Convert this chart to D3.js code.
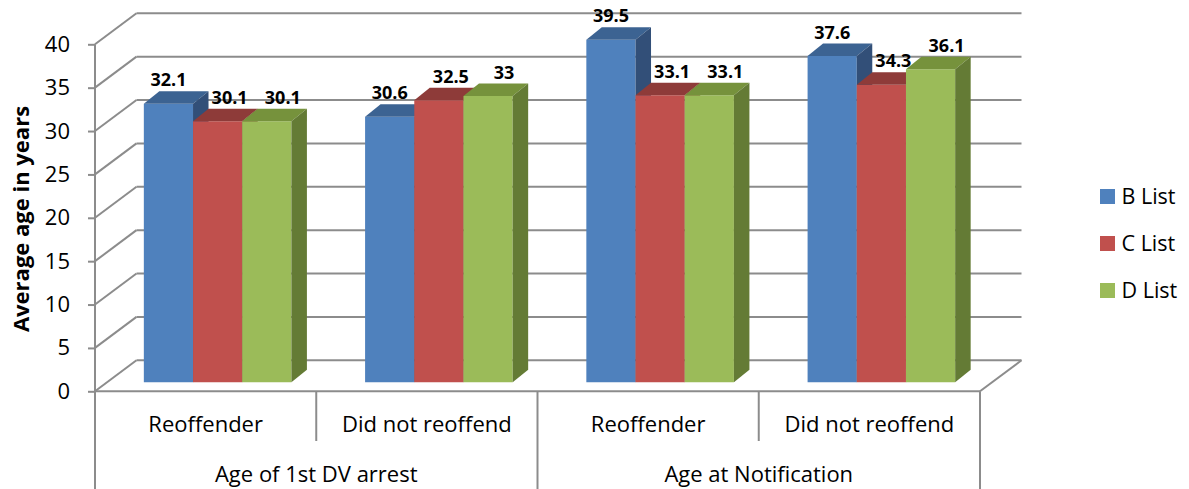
<!DOCTYPE html>
<html>
<head>
<meta charset="utf-8">
<script src="https://cdn.jsdelivr.net/npm/d3@7"></script>
<style>
  html, body { margin: 0; padding: 0; background: #ffffff; }
  svg { display: block; font-family: "Open Sans", "Noto Sans", sans-serif; }
</style>
</head>
<body>
<svg id="chart" width="1189" height="489"></svg>
<script>
// ---- data ----
const groups = ["Age of 1st DV arrest", "Age at Notification"];
const subCategories = ["Reoffender", "Did not reoffend"];
const seriesNames = ["B List", "C List", "D List"];
const bList = [32.1, 30.6, 39.5, 37.6];
const cList = [30.1, 32.5, 33.1, 34.3];
const dList = [30.1, 33.0, 33.1, 36.1];
const yTicks = [0, 5, 10, 15, 20, 25, 30, 35, 40];
const yTitle = "Average age in years";

// ---- styles ----
const frontColors = ["#4F81BD", "#C0504D", "#9BBB59"];
const topColors   = ["#3C6392", "#8E3B39", "#76923C"];
const sideColors  = ["#324F78", "#7A3230", "#647B35"];
const labelShift  = [0, 12, 16];
const lineColor = "#8C8C8C";

const seriesValues = [bList, cList, dList];
const categories = [];
groups.forEach((g, gi) => subCategories.forEach((s, si) => categories.push({ group: g, gi, sub: s, idx: gi * subCategories.length + si })));

const svg = d3.select("#chart");

// geometry
const x0 = 95, x1 = 980;
const wallDX = 41.5, wallDY = -31;   // depth of the whole plot box
const barOX = 12, barOY = -9;        // front plane of bars inside the box
const barDX = 15.5, barDY = -12.5;   // depth of each bar

const y = d3.scaleLinear().domain([0, 40]).range([391.3, 44.3]);
const x = d3.scaleBand().domain(categories.map(c => c.idx)).range([x0, x1]).paddingInner(0).paddingOuter(0);
const barGroupWidth = x.bandwidth() * 0.667;
const xs = d3.scaleBand().domain(d3.range(seriesNames.length)).range([0, barGroupWidth]).padding(0);

// ---- back wall gridlines ----
const g = svg.append("g");
g.selectAll("line.grid").data(yTicks).join("line")
  .attr("x1", x0 + wallDX).attr("x2", x1 + wallDX)
  .attr("y1", d => y(d) + wallDY).attr("y2", d => y(d) + wallDY)
  .attr("stroke", lineColor).attr("stroke-width", 2);
// left wall diagonals
g.selectAll("line.diag").data(yTicks).join("line")
  .attr("x1", x0).attr("x2", x0 + wallDX)
  .attr("y1", d => y(d)).attr("y2", d => y(d) + wallDY)
  .attr("stroke", lineColor).attr("stroke-width", 2);
// right floor diagonal
g.append("line").attr("x1", x1).attr("y1", y(0)).attr("x2", x1 + wallDX).attr("y2", y(0) + wallDY)
  .attr("stroke", lineColor).attr("stroke-width", 2);

// ---- bars ----
const bars = [];
categories.forEach(c => {
  seriesValues.forEach((vals, si) => {
    bars.push({ c, si, v: vals[c.idx] });
  });
});
const barG = svg.append("g");
bars.forEach(b => {
  const left = x(b.c.idx) + (x.bandwidth() - barGroupWidth) / 2 + xs(b.si) + barOX;
  const right = left + xs.bandwidth();
  const base = y(0) + barOY;
  const top = y(b.v) + barOY;
  const gb = barG.append("g");
  gb.append("polygon")
    .attr("points", [[left, base], [right, base], [right, top], [left, top]].map(p => p.join(",")).join(" "))
    .attr("fill", frontColors[b.si]);
  gb.append("polygon")
    .attr("points", [[left, top], [right, top], [right + barDX, top + barDY], [left + barDX, top + barDY]].map(p => p.join(",")).join(" "))
    .attr("fill", topColors[b.si]);
  gb.append("polygon")
    .attr("points", [[right, base], [right + barDX, base + barDY], [right + barDX, top + barDY], [right, top]].map(p => p.join(",")).join(" "))
    .attr("fill", sideColors[b.si]);
  b.cx = (left + right) / 2;
  b.labelY = top + barDY - 5;
});
// data labels
svg.append("g").selectAll("text").data(bars).join("text")
  .attr("x", d => d.cx + labelShift[d.si])
  .attr("y", d => d.labelY)
  .attr("text-anchor", "middle")
  .attr("font-weight", "bold")
  .attr("font-size", 18)
  .attr("fill", "#000")
  .text(d => String(d.v));

// ---- front axes ----
const axisG = svg.append("g");
// value axis
const yAxis = d3.axisLeft(y).tickValues(yTicks).tickSize(7).tickSizeOuter(0).tickPadding(18);
const ya = axisG.append("g").attr("transform", `translate(${x0},0)`).call(yAxis);
ya.select(".domain").remove();
ya.selectAll(".tick line").attr("stroke", lineColor).attr("stroke-width", 2);
ya.selectAll(".tick text").attr("font-size", 22).attr("fill", "#000")
  .attr("font-family", "'Open Sans', sans-serif");
axisG.append("line").attr("x1", x0).attr("x2", x0).attr("y1", y(40)).attr("y2", 489)
  .attr("stroke", lineColor).attr("stroke-width", 2);
// floor front line
axisG.append("line").attr("x1", x0).attr("x2", x1).attr("y1", y(0)).attr("y2", y(0))
  .attr("stroke", lineColor).attr("stroke-width", 2);
// separators
categories.forEach(c => {
  if (c.idx === 0) return;
  const isGroup = c.idx % subCategories.length === 0;
  axisG.append("line").attr("x1", x(c.idx)).attr("x2", x(c.idx))
    .attr("y1", y(0)).attr("y2", isGroup ? 489 : 441)
    .attr("stroke", lineColor).attr("stroke-width", 2);
});
axisG.append("line").attr("x1", x1).attr("x2", x1).attr("y1", y(0)).attr("y2", 489)
  .attr("stroke", lineColor).attr("stroke-width", 2);
// category labels
axisG.selectAll("text.sub").data(categories).join("text")
  .attr("x", d => x(d.idx) + x.bandwidth() / 2).attr("y", 432)
  .attr("text-anchor", "middle").attr("font-size", 22).attr("fill", "#000")
  .text(d => d.sub);
axisG.selectAll("text.grp").data(groups).join("text")
  .attr("x", (d, i) => x(i * subCategories.length) + x.bandwidth() * subCategories.length / 2).attr("y", 481.5)
  .attr("text-anchor", "middle").attr("font-size", 22).attr("fill", "#000")
  .text(d => d);

// y title
svg.append("text")
  .attr("transform", `translate(29,219) rotate(-90)`)
  .attr("text-anchor", "middle").attr("font-weight", "bold").attr("font-size", 22).attr("fill", "#000")
  .text(yTitle);

// ---- legend ----
const legend = svg.append("g").attr("transform", "translate(1100,189)");
const li = legend.selectAll("g").data(seriesNames).join("g")
  .attr("transform", (d, i) => `translate(0,${i * 47})`);
li.append("rect").attr("width", 15).attr("height", 15).attr("fill", (d, i) => frontColors[i]);
li.append("text").attr("x", 21.5).attr("y", 14.5).attr("font-size", 21.5).attr("fill", "#000").text(d => d);
</script>
</body>
</html>
